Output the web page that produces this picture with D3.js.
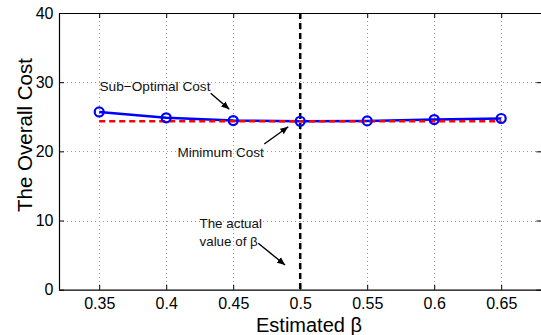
<!DOCTYPE html>
<html><head><meta charset="utf-8">
<script src="https://cdn.jsdelivr.net/npm/d3@7"></script>
<style>
html,body{margin:0;padding:0;background:#fff;}
svg{display:block;font-family:"Liberation Sans",Arial,Helvetica,sans-serif;}
</style></head>
<body>
<svg id="chart" width="541" height="335"></svg>
<script>
const betas = [0.35, 0.40, 0.45, 0.50, 0.55, 0.60, 0.65];
const subOptimalCost = [25.7, 24.85, 24.45, 24.35, 24.4, 24.6, 24.75];
const minimumCost = [24.35, 24.35, 24.35, 24.35, 24.35, 24.35, 24.35];
const actualBeta = 0.5;
const xTicks = [0.35, 0.40, 0.45, 0.50, 0.55, 0.60, 0.65];
const xTickLabels = ["0.35", "0.4", "0.45", "0.5", "0.55", "0.6", "0.65"];
const yTicks = [0, 10, 20, 30, 40];
const annotations = [
  {text: ["Sub\u2212Optimal Cost"], tx: 99.5, ty: 90.5, w: 111, from: [0.4332, 28.4], to: [0.4471, 26.08]},
  {text: ["Minimum Cost"], tx: 177.5, ty: 157, w: 86.5, from: [0.4732, 21.06], to: [0.4911, 23.56]},
  {text: ["The actual", "value of \u03b2"], tx: 199.5, ty: 228, w: 62.5, from: [0.4687, 6.71], to: [0.4887, 3.57]}
];

const svg = d3.select("#chart");
const m = {left: 59, top: 13, right: 541.4, bottom: 289.7};
const x = d3.scaleLinear().domain([0.32, 0.68]).range([m.left, m.right]);
const y = d3.scaleLinear().domain([0, 40]).range([m.bottom, m.top]);

svg.append("defs").append("marker")
  .attr("id", "arr").attr("viewBox", "0 0 10 10").attr("refX", 10).attr("refY", 5)
  .attr("markerWidth", 8).attr("markerHeight", 8).attr("markerUnits", "userSpaceOnUse")
  .attr("orient", "auto")
  .append("path").attr("d", "M0,0.8 L10,5 L0,9.2 Z").attr("fill", "#000");

// grid
const grid = svg.append("g").attr("stroke", "#9a9a9a").attr("stroke-width", 1).attr("stroke-dasharray", "1,3");
grid.selectAll(".gx").data(xTicks).join("line")
  .attr("x1", d => Math.round(x(d)) + 0.5).attr("x2", d => Math.round(x(d)) + 0.5)
  .attr("y1", m.top).attr("y2", m.bottom);
grid.selectAll(".gy").data(yTicks.filter(d => d > 0 && d < 40)).join("line")
  .attr("y1", d => Math.round(y(d)) + 0.5).attr("y2", d => Math.round(y(d)) + 0.5)
  .attr("x1", m.left).attr("x2", m.right);

// axes
const xAxisB = d3.axisBottom(x).tickValues(xTicks).tickFormat((d, i) => xTickLabels[i]).tickSizeInner(-5).tickSizeOuter(0).tickPadding(7.5);
const gxB = svg.append("g").attr("transform", `translate(0,${m.bottom})`).call(xAxisB);
const gxT = svg.append("g").attr("transform", `translate(0,${m.top})`).call(d3.axisTop(x).tickValues(xTicks).tickFormat("").tickSizeInner(-5).tickSizeOuter(0));
const gyL = svg.append("g").attr("transform", `translate(${m.left},0)`).call(d3.axisLeft(y).tickValues(yTicks).tickSizeInner(-5).tickSizeOuter(0).tickPadding(5.5));
const gyR = svg.append("g").attr("transform", `translate(${m.right},0)`).call(d3.axisRight(y).tickValues(yTicks).tickFormat("").tickSizeInner(-5).tickSizeOuter(0));
[gxB, gxT, gyL, gyR].forEach(g => {
  g.select(".domain").attr("stroke", "#000").attr("stroke-width", 1.2);
  g.selectAll(".tick line").attr("stroke", "#000").attr("stroke-width", 1);
  g.selectAll("text").attr("font-size", 16).attr("fill", "#000").attr("font-family", "Liberation Sans, Arial, sans-serif");
});

// actual beta vertical dashed line
svg.append("line")
  .attr("x1", x(actualBeta)).attr("x2", x(actualBeta))
  .attr("y1", m.top).attr("y2", m.bottom)
  .attr("stroke", "#000").attr("stroke-width", 2.5).attr("stroke-dasharray", "6,4");

// sub-optimal (blue)
const line = d3.line().x((d, i) => x(betas[i])).y(d => y(d));
svg.append("path").datum(subOptimalCost).attr("d", line)
  .attr("fill", "none").attr("stroke", "#0000ff").attr("stroke-width", 2.5);
// minimum (red dashed)
svg.append("path").datum(minimumCost).attr("d", line)
  .attr("fill", "none").attr("stroke", "#ff0000").attr("stroke-width", 2.5).attr("stroke-dasharray", "6,4");
// markers
svg.append("g").selectAll("circle").data(subOptimalCost).join("circle")
  .attr("cx", (d, i) => x(betas[i])).attr("cy", d => y(d)).attr("r", 4.5)
  .attr("fill", "none").attr("stroke", "#0000ff").attr("stroke-width", 2.2);

// annotations
const ann = svg.append("g");
annotations.forEach(a => {
  const t = ann.append("text").attr("x", a.tx).attr("y", a.ty).attr("font-size", 13).attr("fill", "#111");
  const spans = a.text.map((s, i) => t.append("tspan").attr("x", a.tx).attr("dy", i === 0 ? 0 : 17.5).text(s));
  const w = spans[0].node().getComputedTextLength();
  if (w > 0) t.attr("font-size", Math.max(11, Math.min(16, 13 * a.w / w)));
  ann.append("line")
    .attr("x1", x(a.from[0])).attr("y1", y(a.from[1]))
    .attr("x2", x(a.to[0])).attr("y2", y(a.to[1]))
    .attr("stroke", "#000").attr("stroke-width", 1.4).attr("marker-end", "url(#arr)");
});

// axis labels
svg.append("text").attr("x", 256).attr("y", 332).attr("font-size", 20).attr("fill", "#000").text("Estimated \u03b2");
svg.append("text").attr("transform", "translate(31.5,135) rotate(-90)").attr("text-anchor", "middle")
  .attr("font-size", 20.5).attr("fill", "#000").text("The Overall Cost");
</script>
</body></html>
